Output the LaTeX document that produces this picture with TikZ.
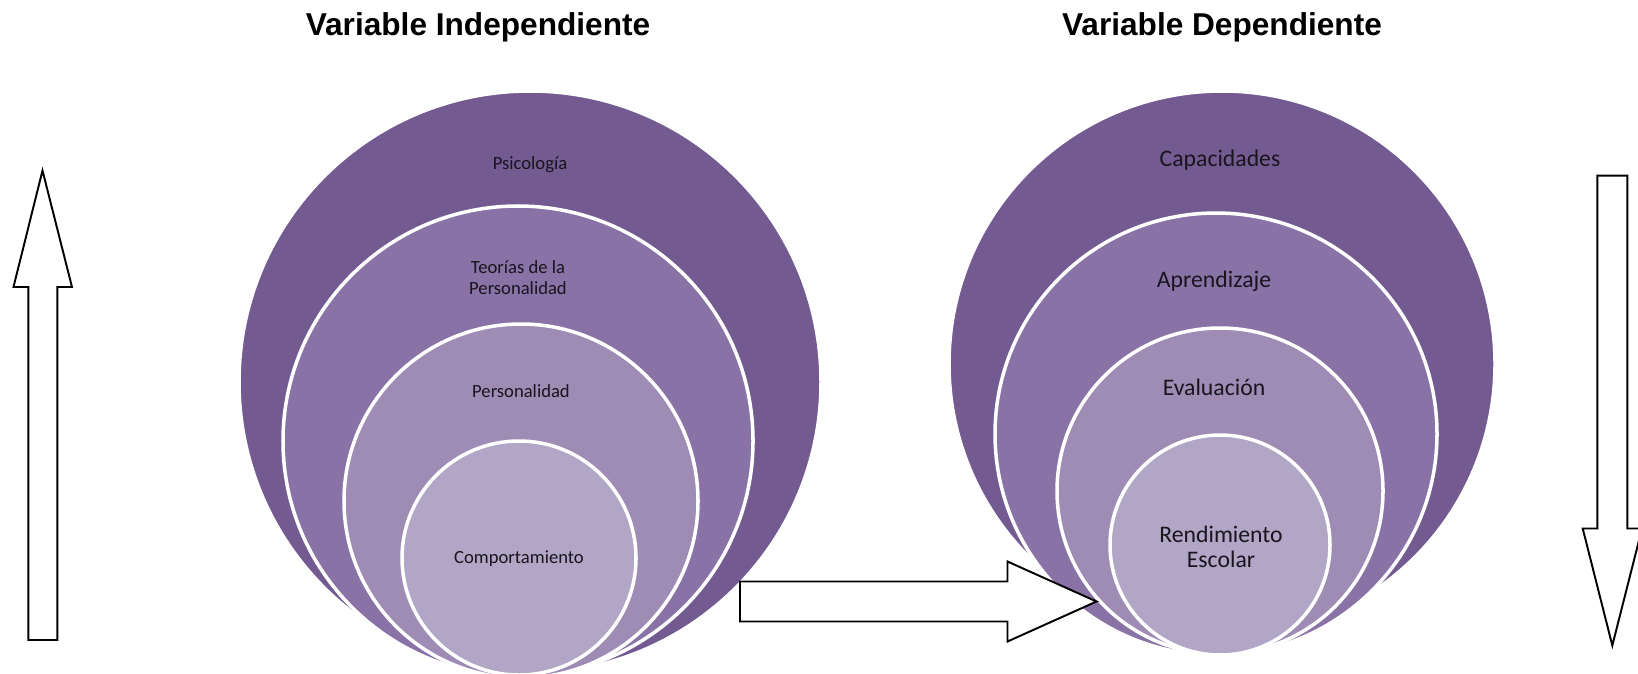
\documentclass[tikz,border=0pt]{standalone}
\usepackage{fontspec}
\setmainfont{Carlito}
\newfontfamily\headfont{Liberation Sans}
\definecolor{ringA}{RGB}{115,91,146}
\definecolor{ringB}{RGB}{137,114,166}
\definecolor{ringC}{RGB}{158,140,181}
\definecolor{ringD}{RGB}{177,166,198}
\definecolor{labeltext}{RGB}{25,20,30}

\begin{document}
\begin{tikzpicture}[x=0.02cm,y=-0.02cm,
    ring/.style={draw=white, line width=2pt},
    blockarrow/.style={draw=black, fill=white, line width=1.1pt, line join=miter},
    title/.style={font=\headfont\bfseries\fontsize{18}{20}\selectfont},
    smalllabel/.style={font=\fontsize{10.6}{12}\selectfont, text=labeltext, align=center},
    biglabel/.style={font=\fontsize{13.5}{14.5}\selectfont, text=labeltext, align=center}]
    \useasboundingbox (0,0) rectangle (1638,673);

    % Titles
    \node[title] (indep) at (478,27) {Variable Independiente};
    \node[title] (dep) at (1222,27) {Variable Dependiente};

    % Left circles
    \filldraw[ring, fill=ringA] (530,382) circle (291);
    \filldraw[ring, fill=ringB] (518,441) circle (235);
    \filldraw[ring, fill=ringC] (521,501) circle (177);
    \filldraw[ring, fill=ringD] (519,558) circle (117);

    % Right circles
    \filldraw[ring, fill=ringA] (1222,364) circle (273);
    \filldraw[ring, fill=ringB] (1216,434) circle (221);
    \filldraw[ring, fill=ringC] (1220,491) circle (163);
    \filldraw[ring, fill=ringD] (1220,545) circle (110);

    % Arrows
    \draw[blockarrow] (28.3,640) -- (28.3,287) -- (13.5,287) -- (42.5,170.5)
      -- (72,287) -- (57.3,287) -- (57.3,640) -- cycle;
    \draw[blockarrow] (740,581.5) -- (1007.5,581.5) -- (1007.5,561.5)
      -- (1096.5,601.5) -- (1007.5,641.5) -- (1007.5,621.5) -- (740,621.5) -- cycle;
    \draw[blockarrow] (1597.3,175.7) -- (1627.3,175.7) -- (1627.3,528.5)
      -- (1642,528.5) -- (1612.3,645.5) -- (1582.7,528.5) -- (1597.3,528.5) -- cycle;

    % Labels
    \node[smalllabel] (psico) at (530,165) {Psicología};
    \node[smalllabel] (teorias) at (518,278) {Teorías de la\\Personalidad};
    \node[smalllabel] (person) at (521,391) {Personalidad};
    \node[smalllabel] (comport) at (519,559) {Comportamiento};

    \node[biglabel] (capac) at (1220,160) {Capacidades};
    \node[biglabel] (aprend) at (1214,281) {Aprendizaje};
    \node[biglabel] (evalua) at (1214,387) {Evaluación};
    \node[biglabel] (rendim) at (1221,547) {Rendimiento\\Escolar};
  \end{tikzpicture}
\end{document}
